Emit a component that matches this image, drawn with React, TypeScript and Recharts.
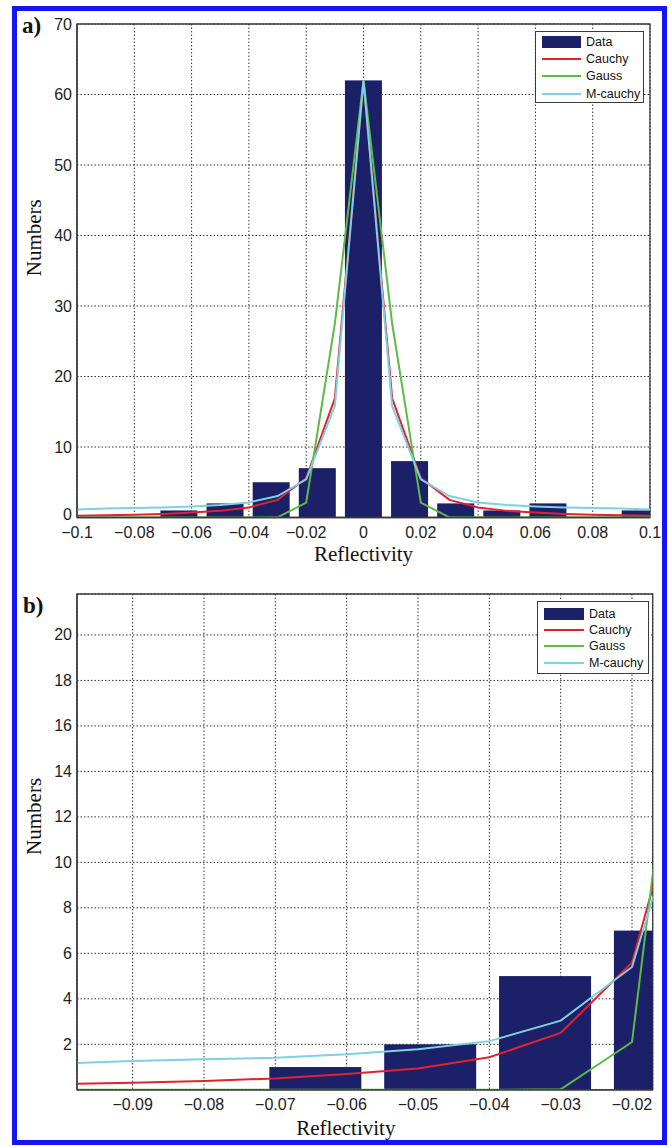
import React from "react";
import {
  ComposedChart,
  Bar,
  Line,
  XAxis,
  YAxis,
  CartesianGrid,
  ReferenceArea,
  Legend,
} from "recharts";

// ---------- data ----------
const binCenters = [-0.0966, -0.0805, -0.0644, -0.0483, -0.0322, -0.0161, 0, 0.0161, 0.0322, 0.0483, 0.0644, 0.0805, 0.0966];
const binCounts = [0, 0, 1, 2, 5, 7, 62, 8, 2, 1, 2, 0, 1];

const fitX = [-0.1, -0.09, -0.08, -0.07, -0.06, -0.05, -0.04, -0.03, -0.02, -0.01, 0, 0.01, 0.02, 0.03, 0.04, 0.05, 0.06, 0.07, 0.08, 0.09, 0.1];
const cauchyY = [0.25, 0.31, 0.39, 0.5, 0.7, 0.94, 1.43, 2.5, 5.6, 16.9, 62, 16.9, 5.6, 2.5, 1.43, 0.94, 0.7, 0.5, 0.39, 0.31, 0.25];
const gaussY = [0, 0, 0, 0, 0, 0, 0, 0.02, 2.1, 27.5, 62, 27.5, 2.1, 0.02, 0, 0, 0, 0, 0, 0, 0];
const mCauchyY = [1.15, 1.27, 1.34, 1.41, 1.56, 1.78, 2.14, 3.04, 5.4, 15.8, 62, 15.8, 5.4, 3.04, 2.14, 1.78, 1.56, 1.41, 1.34, 1.27, 1.15];

const seriesNames = ["Data", "Cauchy", "Gauss", "M-cauchy"];

// panel a axes
const xDomainA = [-0.1, 0.1];
const xTicksA = [-0.1, -0.08, -0.06, -0.04, -0.02, 0, 0.02, 0.04, 0.06, 0.08, 0.1];
const xTickLabelsA = ["\u22120.1", "\u22120.08", "\u22120.06", "\u22120.04", "\u22120.02", "0", "0.02", "0.04", "0.06", "0.08", "0.1"];
const yDomainA = [0, 70];
const yTicksA = [0, 10, 20, 30, 40, 50, 60, 70];

// panel b axes
const xDomainB = [-0.0978, -0.0171];
const xTicksB = [-0.09, -0.08, -0.07, -0.06, -0.05, -0.04, -0.03, -0.02];
const xTickLabelsB = ["\u22120.09", "\u22120.08", "\u22120.07", "\u22120.06", "\u22120.05", "\u22120.04", "\u22120.03", "\u22120.02"];
const yDomainB = [0, 21.8];
const yTicksB = [2, 4, 6, 8, 10, 12, 14, 16, 18, 20];

// ---------- built tables ----------
const barData = binCenters.map((x, i) => ({ x, count: binCounts[i] }));
const lineData = fitX.map((x, i) => ({ x, cauchy: cauchyY[i], gauss: gaussY[i], mcauchy: mCauchyY[i] }));

const COLORS = {
  bar: "#1b2068",
  cauchy: "#e0232c",
  gauss: "#5cbb45",
  mcauchy: "#7fd0e2",
};

const SANS = "'Liberation Sans', Arial, Helvetica, sans-serif";
const SERIF = "'Liberation Serif', 'Times New Roman', Times, serif";

const fmt = (ticks: number[], labels: string[]) => (v: number) => {
  const i = ticks.findIndex((t) => Math.abs(t - v) < 1e-9);
  return i >= 0 ? labels[i] : String(v);
};

function LegendBox({ w, h, textLeft, swLeft, swW, rowTop, rowGap }: any) {
  const colors = [COLORS.bar, COLORS.cauchy, COLORS.gauss, COLORS.mcauchy];
  return (
    <div
      style={{
        position: "relative",
        width: w,
        height: h,
        boxSizing: "border-box",
        border: "1.3px solid #3a3a3a",
        background: "#fff",
        fontFamily: SANS,
        fontSize: 12.5,
        color: "#111",
      }}
    >
      {seriesNames.map((name, i) => {
        const cy = rowTop + i * rowGap;
        return (
          <React.Fragment key={name}>
            {i === 0 ? (
              <div style={{ position: "absolute", left: swLeft, top: cy - 6, width: swW, height: 12, background: colors[i] }} />
            ) : (
              <div style={{ position: "absolute", left: swLeft, top: cy - 1, width: swW, height: 2, background: colors[i] }} />
            )}
            <div style={{ position: "absolute", left: textLeft, top: cy - 8, lineHeight: "16px", whiteSpace: "nowrap" }}>{name}</div>
          </React.Fragment>
        );
      })}
    </div>
  );
}

const makeBarShape = (barWidth: number) => (p: any) => {
  const { x, y, width, height } = p;
  if (!height || height <= 0) return <g />;
  const cx = x + width / 2;
  return <rect x={cx - barWidth / 2} y={y} width={barWidth} height={height} fill={COLORS.bar} />;
};

// y tick: the bottom "0" label sits slightly above the axis line, as in the reference
const YTick = (p: any) => {
  const { x, y, payload } = p;
  const lift = payload && payload.value === 0 ? -3 : 0;
  return (
    <text x={x} y={y + lift} textAnchor="end" dominantBaseline="central" fontFamily={SANS} fontSize={16} fill="#222">
      {payload ? payload.value : ""}
    </text>
  );
};

function Panel(props: any) {
  const {
    top, height, margin, xDomain, xTicks, xTickLabels, yDomain, yTicks, barSize,
    legend, panelLabel, panelLabelPos, yTitleDy, xTitleDx, xTitleDy,
  } = props;

  const xTitle = (p: any) => {
    const vb = p.viewBox || {};
    return (
      <text x={vb.x + vb.width / 2 + xTitleDx} y={vb.y + xTitleDy} textAnchor="middle" fontFamily={SERIF} fontSize={21} fill="#111">
        Reflectivity
      </text>
    );
  };
  const yTitle = (p: any) => {
    const vb = p.viewBox || {};
    const cx = 34;
    const cy = vb.y + vb.height / 2 + yTitleDy;
    return (
      <g>
        <text x={cx} y={cy} transform={`rotate(-90 ${cx} ${cy})`} textAnchor="middle" dominantBaseline="central" fontFamily={SERIF} fontSize={21} fill="#111">
          Numbers
        </text>
        <text x={panelLabelPos[0]} y={panelLabelPos[1]} fontFamily={SERIF} fontWeight="bold" fontSize={23} fill="#111">
          {panelLabel}
        </text>
      </g>
    );
  };

  return (
    <div style={{ position: "absolute", left: 0, top, width: 672, height }}>
      <ComposedChart width={672} height={height} data={barData} margin={margin}>
        <CartesianGrid stroke="#333" strokeDasharray="1.5 2" strokeWidth={1} />
        <XAxis
          type="number"
          dataKey="x"
          domain={xDomain}
          ticks={xTicks}
          interval={0}
          allowDataOverflow
          height={45}
          tickLine={false}
          tickSize={7}
          tickMargin={2}
          axisLine={{ stroke: "#3a3a3a", strokeWidth: 1.3 }}
          tick={{ fontFamily: SANS, fontSize: 16, fill: "#222" }}
          tickFormatter={fmt(xTicks, xTickLabels)}
          label={{ content: xTitle }}
        />
        <YAxis
          type="number"
          domain={yDomain}
          ticks={yTicks}
          interval={0}
          allowDataOverflow
          width={77}
          tickLine={false}
          tickSize={3}
          tickMargin={2}
          axisLine={{ stroke: "#3a3a3a", strokeWidth: 1.3 }}
          tick={<YTick />}
          label={{ content: yTitle }}
        />
        <Bar dataKey="count" fill={COLORS.bar} shape={makeBarShape(barSize)} isAnimationActive={false} />
        <Line data={lineData} dataKey="cauchy" stroke={COLORS.cauchy} strokeWidth={2} dot={false} activeDot={false} isAnimationActive={false} />
        <Line data={lineData} dataKey="gauss" stroke={COLORS.gauss} strokeWidth={2} dot={false} activeDot={false} isAnimationActive={false} />
        <Line data={lineData} dataKey="mcauchy" stroke={COLORS.mcauchy} strokeWidth={2} dot={false} activeDot={false} isAnimationActive={false} />
        <ReferenceArea
          x1={xDomain[0]}
          x2={xDomain[1]}
          y1={yDomain[0]}
          y2={yDomain[1]}
          fill="none"
          fillOpacity={0}
          stroke="#3a3a3a"
          strokeWidth={1.3}
          ifOverflow="visible"
        />
        <Legend
          layout="vertical"
          align="center"
          verticalAlign="middle"
          wrapperStyle={{ left: legend.left, top: legend.top, width: legend.w, height: legend.h }}
          content={() => <LegendBox {...legend} />}
        />
      </ComposedChart>
    </div>
  );
}

export default function App() {
  return (
    <div style={{ position: "absolute", left: 0, top: 0, width: 672, height: 1146, background: "#fff", overflow: "hidden" }}>
      <div
        style={{
          position: "absolute",
          left: 12,
          top: 6,
          width: 655,
          height: 1139,
          boxSizing: "border-box",
          border: "5px solid #1414f5",
        }}
      />
      <Panel
        top={0}
        height={580}
        margin={{ top: 24, right: 22, left: 0, bottom: 17.5 }}
        xDomain={xDomainA}
        xTicks={xTicksA}
        xTickLabels={xTickLabelsA}
        yDomain={yDomainA}
        yTicks={yTicksA}
        barSize={37}
        legend={{ left: 535, top: 31, w: 109, h: 72, swLeft: 6, swW: 39, textLeft: 50, rowTop: 10, rowGap: 17.2 }}
        panelLabel="a)"
        panelLabelPos={[22, 33]}
        yTitleDy={-33}
        xTitleDx={0}
        xTitleDy={43}
      />
      <Panel
        top={560}
        height={586}
        margin={{ top: 34, right: 19.3, left: 0, bottom: 11.2 }}
        xDomain={xDomainB}
        xTicks={xTicksB}
        xTickLabels={xTickLabelsB}
        yDomain={yDomainB}
        yTicks={yTicksB}
        barSize={92}
        legend={{ left: 537, top: 41, w: 112, h: 73, swLeft: 6, swW: 40, textLeft: 51, rowTop: 11.5, rowGap: 16.4 }}
        panelLabel="b)"
        panelLabelPos={[23, 53]}
        yTitleDy={-25.5}
        xTitleDx={-19}
        xTitleDy={45.5}
      />
    </div>
  );
}
